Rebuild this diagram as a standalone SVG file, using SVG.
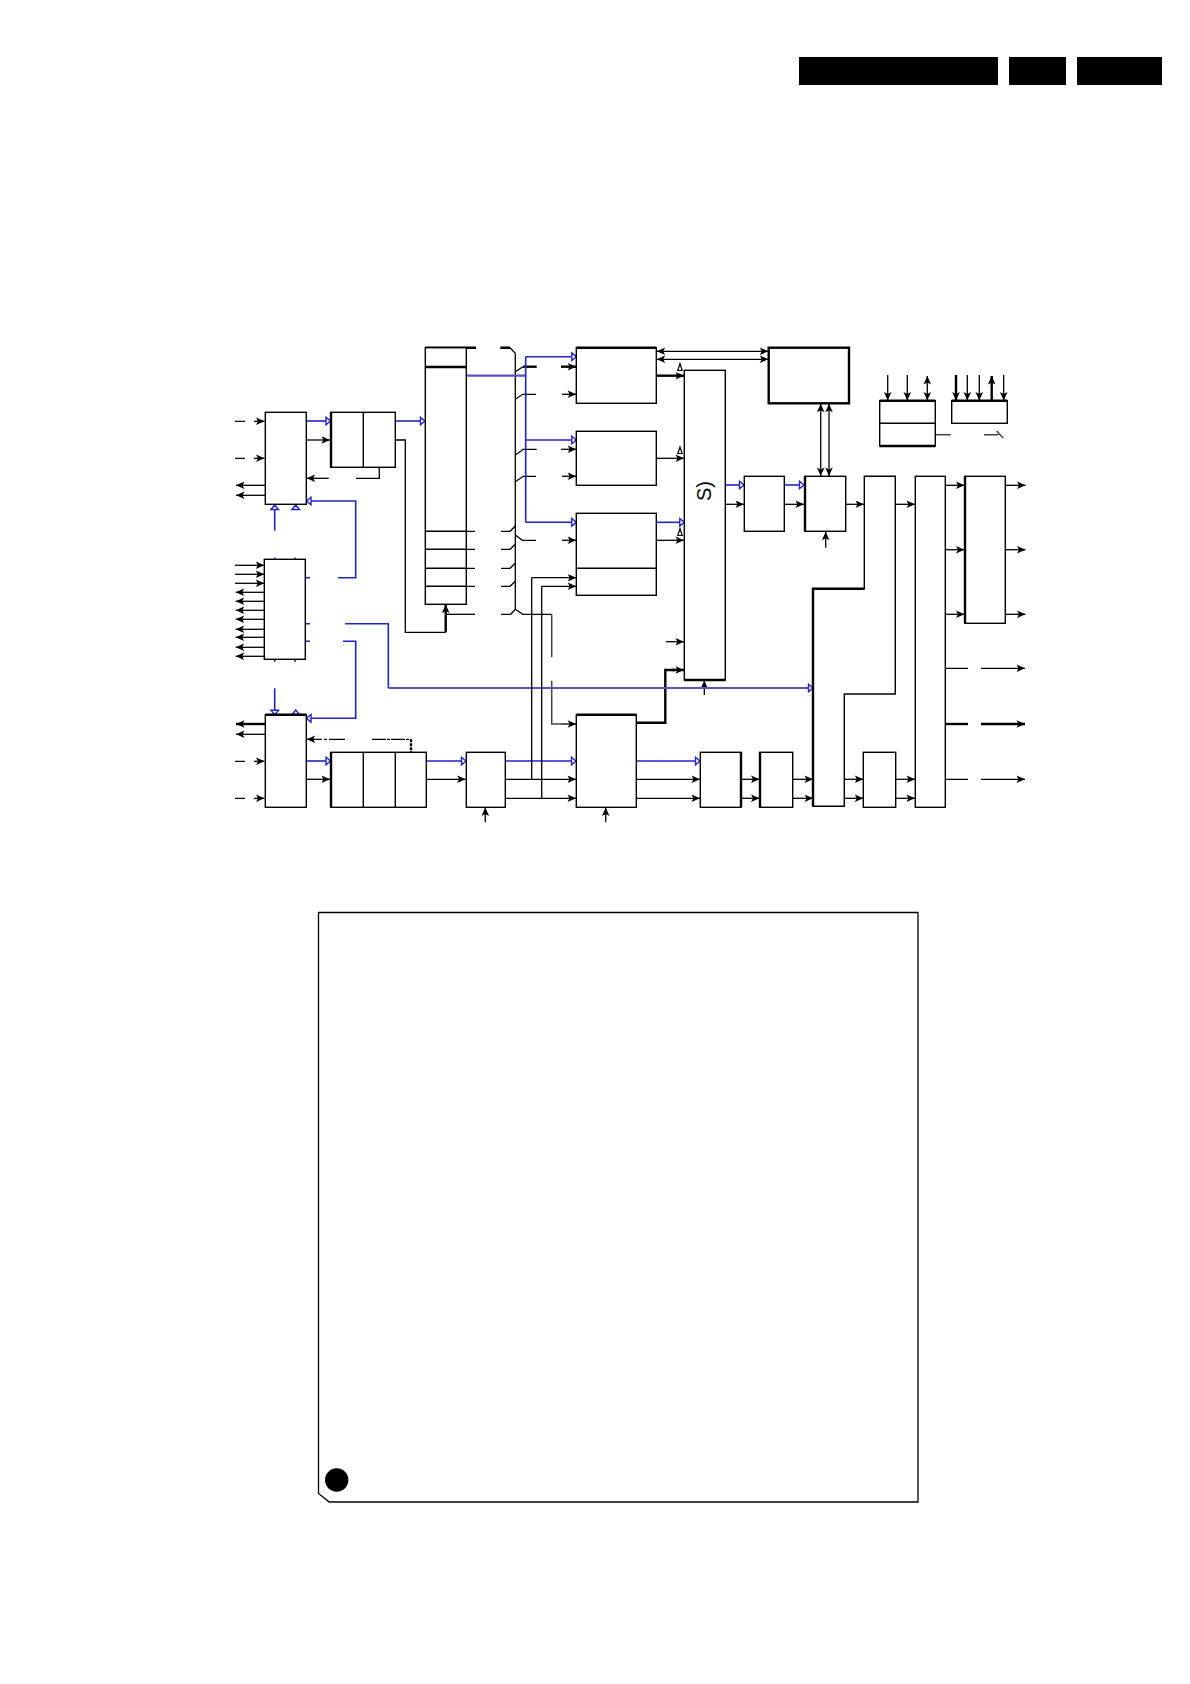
<svg xmlns="http://www.w3.org/2000/svg" width="1190" height="1684" viewBox="0 0 1190 1684">
<style>
.n{fill:#fff;stroke:#000;stroke-width:1.4}
.d{fill:none;stroke:#000;stroke-width:1.4}
.t{fill:none;stroke:#000;stroke-width:2.4}
.k{fill:none;stroke:#000;stroke-width:1.3;marker-end:url(#a)}
.kk{fill:none;stroke:#000;stroke-width:2.4;marker-end:url(#a)}
.b2{fill:none;stroke:#000;stroke-width:1.3;marker-end:url(#a);marker-start:url(#s)}
.l{fill:none;stroke:#000;stroke-width:1.3}
.g{fill:none;stroke:#444;stroke-width:1.5}
.u{fill:none;stroke:#2222cc;stroke-width:1.6;marker-end:url(#h)}
.u0{fill:none;stroke:#2222cc;stroke-width:1.6}
.p{fill:none;stroke:#5a50c8;stroke-width:2.2;marker-end:url(#h)}
.p0{fill:none;stroke:#5a50c8;stroke-width:2.2}
.tri{fill:#fff;stroke:#000;stroke-width:1.2}
</style>
<defs>
<marker id="a" markerUnits="userSpaceOnUse" viewBox="-10 -5 11 10" refX="0" refY="0" markerWidth="11" markerHeight="10" orient="auto"><path d="M-8.5,-3.8 L0,0 L-8.5,3.8 L-6.5,0 Z" fill="#000"/></marker>
<marker id="s" markerUnits="userSpaceOnUse" viewBox="-1 -5 11 10" refX="0" refY="0" markerWidth="11" markerHeight="10" orient="auto"><path d="M8.5,-3.8 L0,0 L8.5,3.8 L6.5,0 Z" fill="#000"/></marker>
<marker id="h" markerUnits="userSpaceOnUse" viewBox="-7 -6 8 12" refX="0" refY="0" markerWidth="8" markerHeight="12" orient="auto"><path d="M-4.5,-3.8 L0,0 L-4.5,3.8 Z" fill="#fff" stroke="#2222cc" stroke-width="1.4"/></marker>
</defs>
<rect width="1190" height="1684" fill="#fff"/>
<g id="header">
<rect x="799" y="57" width="199" height="28" fill="#000"/>
<rect x="1009" y="57" width="57" height="28" fill="#000"/>
<rect x="1077" y="57" width="85" height="28" fill="#000"/>
</g>
<g id="connectors">
<!-- box A -->
<path class="l" d="M235 421.3H245M235 458.3H245"/>
<path class="k" d="M254 421.3H264.5"/><path class="k" d="M254 458.3H264.5"/>
<path class="k" d="M265.3 485.3H236"/><path class="k" d="M265.3 495.3H236"/>
<path class="u" d="M306.3 421H330.5"/><path class="k" d="M306.3 440H330"/>
<path class="k" d="M328.7 478.3H306.6"/><path class="l" d="M356 478.3H379.3V467.3"/>
<path class="u" d="M338 577.7H355.7V501H306.5"/><path class="u0" d="M305.3 577.7H310"/>
<path class="u" d="M274.7 530.7V505"/><path class="u" d="M295.7 510V505"/>
<path class="u0" d="M274.7 557.5V559.5M295 557.5V559.5M274.7 659.3V662M295 659.3V662"/>
<!-- box B / C -->
<path class="u" d="M395.5 421H425"/>
<path class="l" d="M395.5 440H405.3V632.3H445.7"/><path class="kk" d="M445.7 632.3V604.6"/>
<path class="l" d="M446.5 614.3H475"/>
<path class="t" d="M425.3 347.7H476M500.3 347.7H510"/>
<path class="l" d="M510 347.7L515.3 353.3V609.3M501 614.3H510.7L515.3 609.3L522.7 614.3H551.7"/>
<path class="g" d="M551.7 614.3V657.3M551.7 680.7V724H562"/><path class="k" d="M562 724H576.2"/>
<path class="l" d="M466 531.3H475M466 549.3H475M466 568.3H475M466 586.3H475"/>
<path class="l" d="M501 531.3H510L515.3 526M501 549.3H510L515.3 544.3M501 568.3H510L515.3 563.3M501 586.3H510L515.3 581.3"/>
<path class="l" d="M515.3 371.7L523 366.7M515.3 399.3L522.7 394.3H536M515.3 455L523.3 449.3H536.7M515.3 481.7L523.3 476.3H536M515.7 535.3L522.3 540.3H536"/>
<path class="t" d="M523 366.7H536.7"/>
<path class="kk" d="M561 366.7H576.2"/><path class="k" d="M562 394.3H576.2"/><path class="k" d="M561 449.3H576.2"/><path class="k" d="M562 476.3H576.2"/><path class="k" d="M562 540.3H576.2"/>
<path class="p0" d="M466.3 375.7H525.7"/>
<path class="u0" d="M525.7 356.7V522.3"/>
<path class="u" d="M525.7 356.7H576.3"/><path class="u" d="M525.7 440H576.3"/><path class="u" d="M525.7 522.3H576.3"/>
<!-- I J K to L -->
<path class="kk" d="M656.3 375.7H684"/><path class="k" d="M656.3 458.3H684"/>
<path class="u" d="M656.3 522.3H684.3"/><path class="k" d="M656.3 540.3H684"/>
<path class="b2" d="M656.7 351.3H768.3"/><path class="b2" d="M656.7 359.3H768.3"/>
<polygon class="tri" points="680,363.5 677.8,370.5 682.2,370.5"/>
<polygon class="tri" points="680,447 677.8,453.5 682.2,453.5"/>
<polygon class="tri" points="680,528.5 677.8,535.5 682.2,535.5"/>
<path class="k" d="M666 641.7H684"/>
<path class="t" d="M636.7 722.7H665.3V670H675"/><path class="kk" d="M672 670H684"/>
<path class="k" d="M704.3 695V680.5"/>
<!-- L M O -->
<path class="u" d="M725.3 485H744"/><path class="k" d="M725.3 504.3H744"/>
<path class="u" d="M784.3 485H804"/><path class="k" d="M784.3 504.3H804"/>
<path class="b2" d="M820.7 403.8V476"/><path class="b2" d="M829 403.8V476"/>
<path class="k" d="M825.7 547.7V531.8"/>
<path class="k" d="M845.7 504.3H864"/><path class="k" d="M895.3 504.3H915"/>
<path class="k" d="M945.3 485.3H964.5"/><path class="k" d="M945.3 549.7H964.5"/><path class="k" d="M945.3 614.3H964.5"/>
<path class="k" d="M1005.3 485.3H1025.5"/><path class="k" d="M1005.3 549.7H1025.5"/><path class="k" d="M1005.3 614.3H1025.5"/>
<path class="l" d="M945.3 668.3H968M945.3 779.3H968"/><path class="t" d="M945.3 724H968"/>
<path class="k" d="M981 668.3H1025"/><path class="kk" d="M981 724H1025"/><path class="k" d="M981 779.3H1025"/>
<!-- S T -->
<path class="k" d="M887.7 375V400.5"/><path class="k" d="M907.3 375V400.5"/><path class="b2" d="M927.3 376V400.5"/>
<path class="kk" d="M956 375V400.5"/><path class="k" d="M967.3 375V400.5"/><path class="k" d="M979.3 375V400.5"/><path class="kk" d="M991.7 400.5V376"/><path class="k" d="M1003.7 375V400.5"/>
<path class="g" d="M935.3 434.7H950.7"/><path class="g" d="M984 434.7H998.3M996.7 431L1003.3 438.3"/>
<!-- D -->
<path class="k" d="M235 565.3H264.3"/><path class="k" d="M235 574.3H264.3"/><path class="k" d="M235 583.3H264.3"/>
<path class="k" d="M264.3 592.3H235.7"/><path class="k" d="M264.3 601.3H235.7"/><path class="k" d="M264.3 610.3H235.7"/><path class="k" d="M264.3 619.3H235.7"/><path class="k" d="M264.3 629.3H235.7"/><path class="k" d="M264.3 637.3H235.7"/><path class="k" d="M264.3 647.3H235.7"/><path class="k" d="M264.3 656.3H235.7"/>
<path class="u0" d="M305.3 623.7H310M305.3 641.3H310"/>
<path class="u0" d="M345 623.7H388.3V688"/><path class="p" d="M388.3 688H813"/>
<path class="u" d="M343 641.3H355.7V718.3H306.5"/>
<path class="u" d="M274.7 688.3V714.7"/><path class="u" d="M295.7 715V710"/>
<!-- E F G H -->
<path class="kk" d="M265.3 724H236"/><path class="k" d="M265.3 734.3H236"/>
<path class="l" d="M235 761.3H245M235 798.3H245"/>
<path class="k" d="M254 761.3H264.5"/><path class="k" d="M254 798.3H264.5"/>
<path class="u" d="M306.3 761H330.5"/><path class="k" d="M306.3 779.3H330"/>
<path class="k" d="M345 739.3H306.7" stroke-dasharray="16 2 3 2 20"/>
<path class="l" d="M372 739.3H411" stroke-dasharray="14 1 3 1"/><path class="t" d="M411 739.3V752.3" stroke-dasharray="3 1"/>
<path class="u" d="M426.3 761H466"/><path class="k" d="M426.3 779.3H465.7"/>
<path class="u" d="M505.3 761H576"/><path class="k" d="M505.3 779.3H576"/><path class="k" d="M505.3 798.3H576"/>
<path class="l" d="M531.7 779.3V577.7"/><path class="k" d="M531.7 577.7H576.2"/>
<path class="l" d="M541.7 798.3V586.3"/><path class="k" d="M541.7 586.3H576.2"/>
<path class="k" d="M485.3 822.3V807.6"/><path class="k" d="M605.7 822.3V807.6"/>
<!-- bottom chain -->
<path class="u" d="M636.3 761H700"/><path class="k" d="M636.3 779.3H700"/><path class="k" d="M636.3 798.3H700"/>
<path class="k" d="M741 779.3H759.5"/><path class="k" d="M741 798.3H759.5"/>
<path class="k" d="M792.7 779.3H813"/><path class="k" d="M792.7 798.3H813"/>
<path class="k" d="M844.3 779.3H863.3"/><path class="k" d="M844.3 798.3H863.3"/>
<path class="k" d="M895.7 779.3H915"/><path class="k" d="M895.7 798.3H915"/>
</g>
<g id="node-a"><rect class="n" x="265.3" y="412.3" width="41" height="92"/></g>
<g id="node-b"><rect class="n" x="330.7" y="412.3" width="64.6" height="55"/><path class="d" d="M363.3 412.3V467.3"/><path class="t" d="M331 412.3V467.3"/></g>
<g id="node-c"><rect class="n" x="425.3" y="347.7" width="41" height="256.6"/><path class="d" d="M425.3 531.3H466.3M425.3 549.3H466.3M425.3 568.3H466.3M425.3 586.3H466.3"/><path class="t" d="M425.3 367H466.3"/></g>
<g id="node-d"><rect class="n" x="264.3" y="559.3" width="41" height="100"/></g>
<g id="node-e"><rect class="n" x="265.3" y="714.7" width="41" height="92.6"/><path class="t" d="M265.3 714.7H306.3"/></g>
<g id="node-f"><rect class="n" x="330.7" y="752.3" width="95.6" height="55"/><path class="d" d="M363.3 752.3V807.3M395.3 752.3V807.3"/><path class="t" d="M331 752.3V807.3"/></g>
<g id="node-g"><rect class="n" x="466.3" y="752.3" width="39" height="55"/></g>
<g id="node-h"><rect class="n" x="576.3" y="714.7" width="60" height="92.6"/><path class="t" d="M576.3 714.7H636.3"/></g>
<g id="node-i"><rect class="n" x="576.3" y="347.7" width="80" height="55.6"/><path class="t" d="M576.3 347.7H656.3"/></g>
<g id="node-j"><rect class="n" x="576.3" y="431.3" width="80" height="54"/></g>
<g id="node-k"><rect class="n" x="576.3" y="513.3" width="80" height="82"/><path class="d" d="M576.3 568.3H656.3"/></g>
<g id="node-l"><rect class="n" x="684.3" y="370.3" width="41" height="309.7"/><path class="t" d="M684.3 680H725.3"/>
<text transform="translate(711 501) rotate(-90)" font-family="'Liberation Sans',Arial,sans-serif" font-size="20" fill="#000">S)</text></g>
<g id="node-m"><rect class="n" x="744.3" y="476.3" width="40" height="55"/></g>
<g id="node-n"><rect class="n" x="768.7" y="347.7" width="80.3" height="55.6" style="stroke-width:2.4"/></g>
<g id="node-o"><rect class="n" x="804.7" y="476.3" width="41" height="55"/><path class="t" d="M805 476.3V531.3"/></g>
<g id="node-p"><path class="n" d="M864.3 476.3H895.3V694H844.3V806.3H813V588.7H864.3Z"/><path class="t" d="M813 806.3V588.7H864.3"/></g>
<g id="node-q"><rect class="n" x="915.3" y="476.3" width="30" height="331"/></g>
<g id="node-r"><rect class="n" x="964.7" y="476.3" width="40.6" height="147"/><path class="t" d="M965 476.3V623.3"/></g>
<g id="node-s"><rect class="n" x="879.7" y="400.7" width="55.6" height="45.3"/><path class="d" d="M879.7 423.3H935.3"/><path class="t" d="M879.7 400.7H935.3M879.7 446H935.3"/></g>
<g id="node-t"><rect class="n" x="951.7" y="400.7" width="55.6" height="22.6"/><path class="t" d="M951.7 400.7H1007.3"/></g>
<g id="node-u"><rect class="n" x="700.3" y="752.3" width="40.7" height="55"/><path class="t" d="M741 752.3V807.3"/></g>
<g id="node-v"><rect class="n" x="759.7" y="752.3" width="33" height="55"/><path class="t" d="M760 752.3V807.3"/></g>
<g id="node-w"><rect class="n" x="863.3" y="752.3" width="32.4" height="55"/></g>
<g id="frame">
<path d="M318.5 912.5H918V1502H329.3L318.5 1493.5Z" fill="none" stroke="#000" stroke-width="1.3"/>
<circle cx="336.7" cy="1480" r="11.7" fill="#000"/>
</g>
</svg>
